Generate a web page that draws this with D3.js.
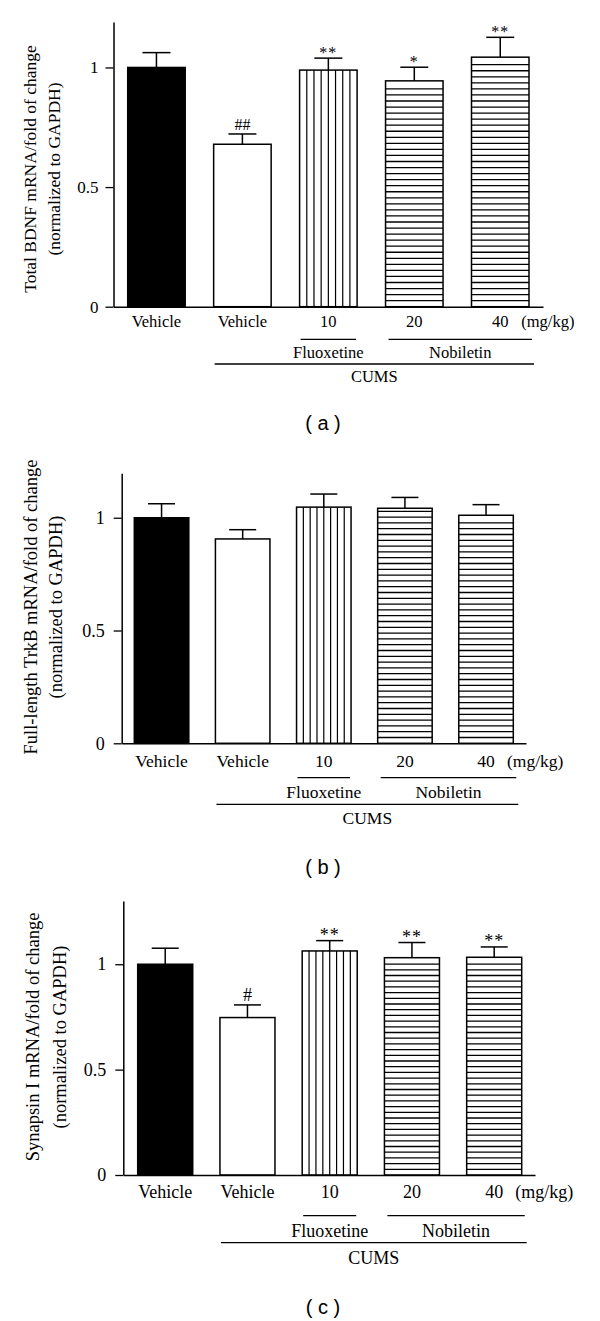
<!DOCTYPE html>
<html>
<head>
<meta charset="utf-8">
<script src="https://cdn.jsdelivr.net/npm/d3@7"></script>
<style>
  html, body { margin: 0; padding: 0; background: #fff; }
  svg { display: block; }
</style>
</head>
<body>
<svg id="chart" width="600" height="1321"></svg>
<script>
// ---------------- DATA ----------------
const groupLabels = ["Vehicle", "Vehicle", "10", "20", "40"];
const unitLabel = "(mg/kg)";
const drugLabels = ["Fluoxetine", "Nobiletin"];
const modelLabel = "CUMS";
const fills = ["solid", "empty", "vertical", "horizontal", "horizontal"];
const tickValues = [0, 0.5, 1];
const tickLabels = ["0", "0.5", "1"];

const bdnfTitle = ["Total BDNF mRNA/fold of change", "(normalized to GAPDH)"];
const bdnfMean = [1.00, 0.679, 0.989, 0.944, 1.043];
const bdnfSem  = [0.062, 0.043, 0.050, 0.057, 0.083];
const bdnfMarks = ["", "##", "**", "*", "**"];

const trkbTitle = ["Full-length TrkB mRNA/fold of change", "(normalized to GAPDH)"];
const trkbMean = [1.00, 0.906, 1.047, 1.042, 1.011];
const trkbSem  = [0.062, 0.041, 0.058, 0.048, 0.047];
const trkbMarks = ["", "", "", "", ""];

const synTitle = ["Synapsin I mRNA/fold of change", "(normalized to GAPDH)"];
const synMean = [1.00, 0.747, 1.063, 1.031, 1.033];
const synSem  = [0.076, 0.060, 0.049, 0.072, 0.049];
const synMarks = ["", "#", "**", "**", "**"];

const captions = ["( a )", "( b )", "( c )"];

// ---------------- LAYOUT ----------------
const layouts = [
  { zeroY: 306.7, topY: 22, yMax: 1.19, axisX: 113.5, xEnd: 543, bx0: 127.7, bx1: 529, pad: 0.331, cap: 28,
    tickFs: 17, labFs: 16.5, yFs: 17.5, starFs: 16, tickPad: 7, stripe: 6.05,
    off: { lab: 14.3, grpLine: 32.6, grpText: 46, cumsLine: 57.3, cumsText: 69.3, caption: 116.3 },
    ylabX: [30, 54], ylabY: 169 },
  { zeroY: 743.3, topY: 473.3, yMax: 1.197, axisX: 121.7, xEnd: 526, bx0: 134.3, bx1: 513.3, pad: 0.328, cap: 27,
    tickFs: 18, labFs: 17.5, yFs: 18.5, starFs: 17, tickPad: 9, stripe: 5.8,
    off: { lab: 17.4, grpLine: 34.4, grpText: 49, cumsLine: 61, cumsText: 74.4, caption: 123.4 },
    ylabX: [31, 56], ylabY: 607 },
  { zeroY: 1175, topY: 901, yMax: 1.30, axisX: 123.3, xEnd: 535, bx0: 137.7, bx1: 521.7, pad: 0.331, cap: 27,
    tickFs: 18, labFs: 18, yFs: 18.5, starFs: 18, tickPad: 9, stripe: 5.7,
    off: { lab: 16.7, grpLine: 40.7, grpText: 55.7, cumsLine: 67.7, cumsText: 83.3, caption: 131.7 },
    ylabX: [33, 59.5], ylabY: 1037 }
];

const panelData = [
  { title: bdnfTitle, mean: bdnfMean, sem: bdnfSem, marks: bdnfMarks },
  { title: trkbTitle, mean: trkbMean, sem: trkbSem, marks: trkbMarks },
  { title: synTitle,  mean: synMean,  sem: synSem,  marks: synMarks }
];

const svg = d3.select("#chart");
svg.append("rect").attr("width", 600).attr("height", 1321).attr("fill", "#fff");

const serif = "'Liberation Serif', 'Times New Roman', Times, serif";
const sans = "'Liberation Sans', Arial, sans-serif";

panelData.forEach((pd, pi) => {
  const L = layouts[pi];
  const g = svg.append("g");
  const idx = d3.range(groupLabels.length);

  const x = d3.scaleBand().domain(idx).range([L.bx0, L.bx1]).paddingInner(L.pad).paddingOuter(0);
  const y = d3.scaleLinear().domain([0, L.yMax]).range([L.zeroY, L.topY]);
  const bw = x.bandwidth();

  // bars
  idx.forEach(i => {
    const x0 = x(i), top = y(pd.mean[i]), bot = y(0);
    const bg = g.append("g");
    bg.append("rect").attr("x", x0).attr("y", top).attr("width", bw).attr("height", bot - top)
      .attr("fill", fills[i] === "solid" ? "#000" : "#fff");
    if (fills[i] === "vertical") {
      d3.range(1, 8).forEach(k => {
        const xx = x0 + k * bw / 8;
        bg.append("line").attr("x1", xx).attr("x2", xx).attr("y1", top).attr("y2", bot)
          .attr("stroke", "#000").attr("stroke-width", 1.2);
      });
    }
    if (fills[i] === "horizontal") {
      for (let yy = bot - L.stripe; yy > top + 2; yy -= L.stripe) {
        bg.append("line").attr("x1", x0).attr("x2", x0 + bw).attr("y1", yy).attr("y2", yy)
          .attr("stroke", "#000").attr("stroke-width", 1.3);
      }
    }
    bg.append("rect").attr("x", x0).attr("y", top).attr("width", bw).attr("height", bot - top)
      .attr("fill", "none").attr("stroke", "#000").attr("stroke-width", 1.5);

    // error bar
    const cx = x0 + bw / 2;
    const eTop = y(pd.mean[i] + pd.sem[i]);
    g.append("line").attr("x1", cx).attr("x2", cx).attr("y1", top).attr("y2", eTop)
      .attr("stroke", "#000").attr("stroke-width", 1.5);
    g.append("line").attr("x1", cx - L.cap / 2).attr("x2", cx + L.cap / 2).attr("y1", eTop).attr("y2", eTop)
      .attr("stroke", "#000").attr("stroke-width", 1.5);

    // significance marks
    if (pd.marks[i]) {
      const isHash = pd.marks[i].indexOf("#") >= 0;
      g.append("text").attr("x", cx).attr("y", eTop - (isHash ? 4 : 0))
        .attr("text-anchor", "middle").attr("font-family", serif).attr("font-size", L.starFs)
        .attr("letter-spacing", isHash ? 0 : 1)
        .text(pd.marks[i]);
    }

    // group label
    g.append("text").attr("x", cx).attr("y", L.zeroY + L.off.lab)
      .attr("text-anchor", "middle").attr("dominant-baseline", "central")
      .attr("font-family", serif).attr("font-size", L.labFs).text(groupLabels[i]);
  });

  // unit label
  const c4 = x(4) + bw / 2;
  g.append("text").attr("x", c4 + 21).attr("y", L.zeroY + L.off.lab)
    .attr("dominant-baseline", "central")
    .attr("font-family", serif).attr("font-size", L.labFs).text(unitLabel);

  // y axis
  const yAxis = d3.axisLeft(y).tickValues(tickValues).tickSizeInner(8).tickSizeOuter(0)
    .tickPadding(L.tickPad).tickFormat((d, i) => tickLabels[i]);
  const ya = g.append("g").attr("transform", `translate(${L.axisX},0)`).call(yAxis);
  ya.select(".domain").attr("stroke", "#000").attr("stroke-width", 1.5);
  ya.selectAll(".tick line").attr("stroke", "#000").attr("stroke-width", 1.3);
  ya.selectAll(".tick text").attr("font-family", serif).attr("font-size", L.tickFs).attr("fill", "#000");

  // x axis baseline
  const xLine = d3.scaleLinear().domain([0, 1]).range([L.axisX, L.xEnd]);
  const xa = g.append("g").attr("transform", `translate(0,${L.zeroY})`)
    .call(d3.axisBottom(xLine).tickValues([]).tickSizeOuter(0));
  xa.select(".domain").attr("stroke", "#000").attr("stroke-width", 1.5);

  // group lines
  const lineY = L.zeroY + L.off.grpLine;
  const fx0 = x(2) + 1, fx1 = x(2) + bw - 1;
  const nx0 = x(3) + 3, nx1 = x(4) + bw + 3;
  const cx0 = x(1) + 1, cx1 = x(4) + bw + 5;
  [[fx0, fx1, lineY], [nx0, nx1, lineY], [cx0, cx1, L.zeroY + L.off.cumsLine]].forEach(s => {
    g.append("line").attr("x1", s[0]).attr("x2", s[1]).attr("y1", s[2]).attr("y2", s[2])
      .attr("stroke", "#000").attr("stroke-width", 1.3);
  });
  g.append("text").attr("x", (fx0 + fx1) / 2).attr("y", L.zeroY + L.off.grpText)
    .attr("text-anchor", "middle").attr("dominant-baseline", "central")
    .attr("font-family", serif).attr("font-size", L.labFs).text(drugLabels[0]);
  g.append("text").attr("x", (nx0 + nx1) / 2).attr("y", L.zeroY + L.off.grpText)
    .attr("text-anchor", "middle").attr("dominant-baseline", "central")
    .attr("font-family", serif).attr("font-size", L.labFs).text(drugLabels[1]);
  g.append("text").attr("x", (cx0 + cx1) / 2).attr("y", L.zeroY + L.off.cumsText)
    .attr("text-anchor", "middle").attr("dominant-baseline", "central")
    .attr("font-family", serif).attr("font-size", L.labFs).text(modelLabel);

  // y title
  pd.title.forEach((t, k) => {
    g.append("text").attr("transform", `translate(${L.ylabX[k]},${L.ylabY}) rotate(-90)`)
      .attr("text-anchor", "middle").attr("dominant-baseline", "central")
      .attr("font-family", serif).attr("font-size", L.yFs).text(t);
  });

  // caption
  g.append("text").attr("x", 323).attr("y", L.zeroY + L.off.caption)
    .attr("text-anchor", "middle").attr("dominant-baseline", "central")
    .attr("font-family", sans).attr("font-size", 20).text(captions[pi]);
});
</script>
</body>
</html>
